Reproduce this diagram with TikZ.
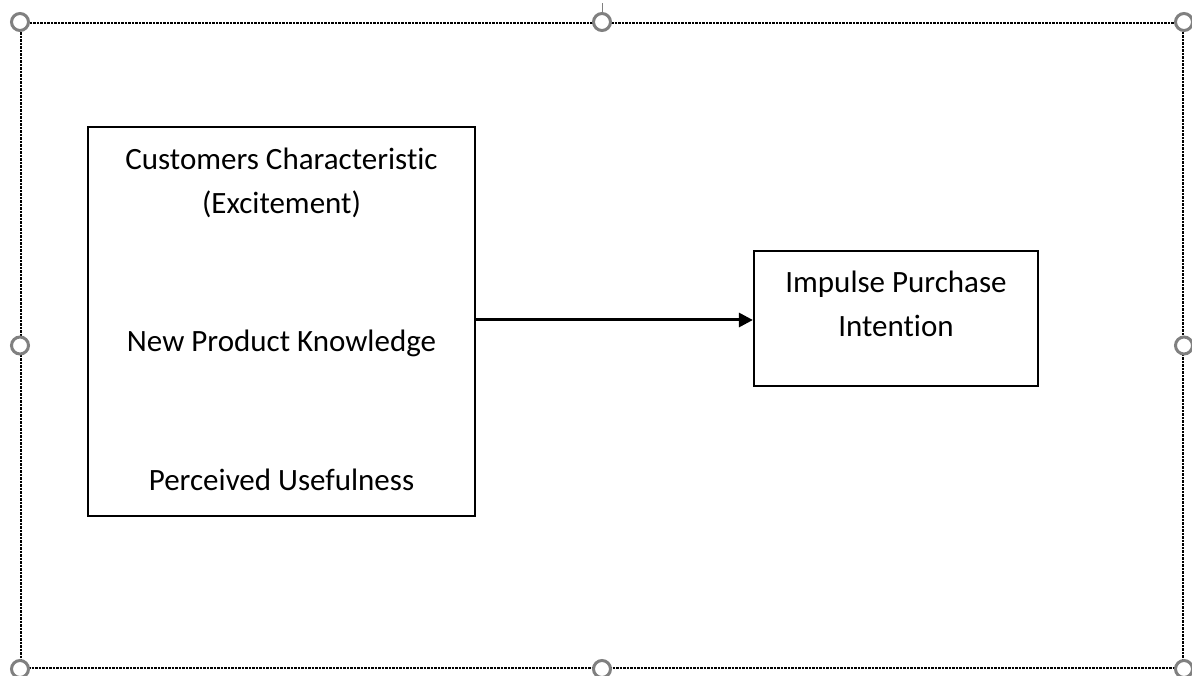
\documentclass[tikz,border=0pt]{standalone}
\usepackage{fontspec}
\setmainfont{Carlito}[Ligatures=NoCommon]
\usetikzlibrary{positioning,arrows.meta}

\begin{document}
\begin{tikzpicture}[x=1pt, y=-1pt,
    box/.style={draw, line width=2.2pt, inner sep=0pt},
    frame/.style={draw=black, line width=2pt, dash pattern=on 2.5pt off 1pt, inner sep=0pt},
    handle/.style={circle, draw=black!50, fill=white, line width=3pt, minimum size=17pt, inner sep=0pt},
    txt/.style={font=\fontsize{31}{44}\selectfont, inner sep=0pt, anchor=base}]
    \useasboundingbox (0,0) rectangle (1192,676);

    % selection frame
    \node[frame, minimum width=1162pt, minimum height=645pt] (sel) at (602,345.5) {};

    % boxes
    \node[box, minimum width=387pt, minimum height=389pt] (factors) at (281.5,321.5) {};
    \node[box, minimum width=284pt, minimum height=135pt] (impulse) at (896,318.5) {};

    % texts
    \node[txt] (cc) at (281.5,170) {Customers Characteristic};
    \node[txt] (ex) at (281.5,214) {(Excitement)};
    \node[txt] (npk) at (281.5,352) {New Product Knowledge};
    \node[txt] (pu) at (281.5,490) {Perceived Usefulness};
    \node[txt] (ip) at (896,293) {Impulse Purchase};
    \node[txt] (in) at (896,337) {Intention};

    % arrow
    \coordinate (mid) at (0,320);
    \draw[-{Triangle[length=14pt, width=14pt]}, line width=3pt] (factors.east |- mid) -- (impulse.west |- mid);

    % handles
    \foreach \a/\n in {north west/nw, north/n, north east/ne, west/w, east/e, south west/sw, south/s, south east/se}
        \node[handle] (h\n) at (sel.\a) {};
    \draw[black!50, line width=1pt] (hn.north) -- ++(0,-9) coordinate (rot);
\end{tikzpicture}
\end{document}
